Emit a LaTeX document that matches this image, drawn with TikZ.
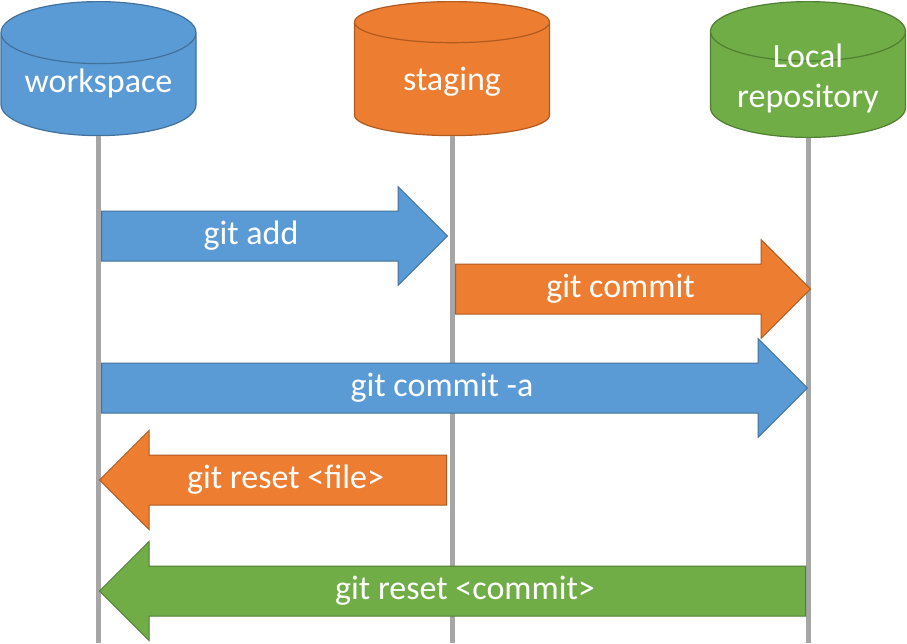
\documentclass[tikz,border=0pt]{standalone}
\usepackage{fontspec}
\setmainfont{Carlito}
\usetikzlibrary{shapes.geometric,shapes.arrows}
\definecolor{wsblue}{HTML}{5B9BD5}
\definecolor{wsblueline}{HTML}{41719C}
\definecolor{storange}{HTML}{ED7D31}
\definecolor{storangeline}{HTML}{AE5A21}
\definecolor{repogreen}{HTML}{70AD47}
\definecolor{repogreenline}{HTML}{507E32}
\definecolor{lifegray}{HTML}{A6A6A6}

\begin{document}
\begin{tikzpicture}
		[x=1pt,y=-1pt,
		 store/.style={cylinder,shape border rotate=90,aspect=0.42,draw,line width=1.2pt,minimum width=195pt,minimum height=134pt,inner sep=0pt,text=white,align=center,text height=24pt,text depth=8pt,font=\fontsize{34}{40}\selectfont},
		 lifeline/.style={line width=5pt,draw=lifegray},
		 cmd/.style={single arrow,single arrow head extend=24.5pt,single arrow tip angle=90,inner xsep=0pt,inner ysep=8.5pt,text height=24pt,text depth=8pt,draw,line width=1pt,text=white,font=\fontsize{34}{40}\selectfont}]
		\useasboundingbox (0,0) rectangle (907,643);

		\node[store,fill=wsblue,draw=wsblueline,anchor=north] (ws) at (98.5,1) {workspace};
		\node[store,fill=storange,draw=storangeline,anchor=north,text height=30pt] (st) at (452,1) {staging};
		\node[store,fill=repogreen,draw=repogreenline,anchor=north,text height=46pt,text depth=-14pt] (repo) at (808,1) {Local\\repository};

		\coordinate (wsend) at (98.5,643);
		\coordinate (stend) at (452,643);
		\coordinate (repoend) at (808,643);
		\draw[lifeline] (ws) -- (wsend);
		\draw[lifeline] (st) -- (stend);
		\draw[lifeline] (repo) -- (repoend);

		\node[cmd,fill=wsblue,draw=wsblueline,minimum height=346pt,anchor=tail,text width=117pt,align=flush left] (add) at (101,236) {git add};
		\node[cmd,fill=storange,draw=storangeline,minimum height=355pt,anchor=tail] (commit) at (455,289) {git commit};
		\node[cmd,fill=wsblue,draw=wsblueline,minimum height=706pt,anchor=tail] (commita) at (101,388) {git commit -a};
		\node[cmd,shape border rotate=180,fill=storange,draw=storangeline,minimum height=347pt,anchor=tail] (resetfile) at (447,480) {git reset <file>};
		\node[cmd,shape border rotate=180,fill=repogreen,draw=repogreenline,minimum height=706pt,anchor=tail] (resetcommit) at (806,591) {git reset <commit>};

	\end{tikzpicture}
\end{document}
